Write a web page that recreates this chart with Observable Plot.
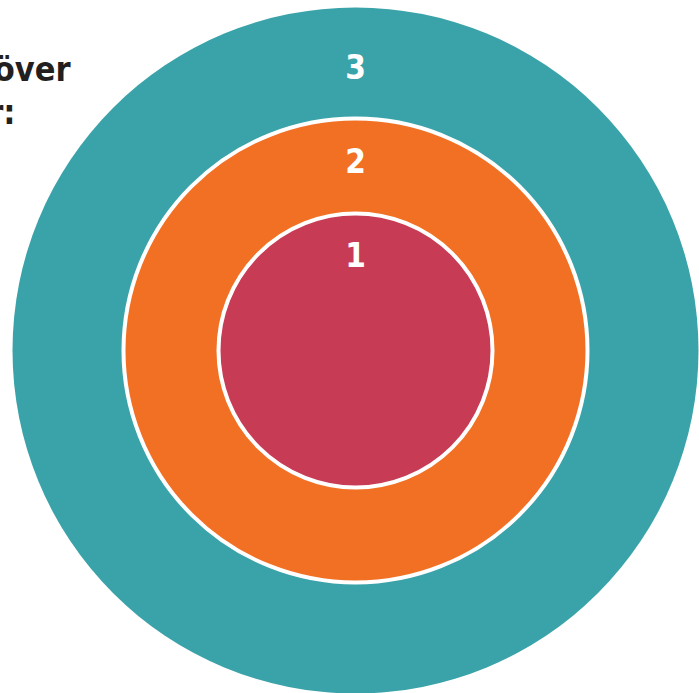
<!DOCTYPE html>
<html>
<head>
<meta charset="utf-8">
<script src="https://cdn.jsdelivr.net/npm/d3@7"></script>
<script src="https://cdn.jsdelivr.net/npm/@observablehq/plot@0.6"></script>
<style>
  html, body { margin: 0; padding: 0; background: #fff; overflow: hidden; }
  #chart svg { display: block; }
</style>
</head>
<body>
<div id="chart"></div>
<script>
// Ring categories (innermost first)
const levels = ["1", "2", "3"];
// Ring radii (arbitrary units)
const radii = [137, 232, 343];
const colors = ["#C83B55", "#F27024", "#3AA3A9"];
// Title fragments visible at the top left
const titleLines = ["över", "r:"];

const labelStep = 94; // spacing of the ring labels from the centre, in radius units

const rings = levels.map((l, i) => ({level: l, r: radii[i], color: colors[i], idx: i}))
  .sort((a, b) => b.r - a.r);

const plot = Plot.plot({
  width: 699,
  height: 693,
  margin: 0,
  x: {domain: [-355, 344], axis: null},
  y: {domain: [-343, 350], axis: null},
  r: {type: "linear", domain: [0, 343], range: [0, 343]},
  marks: [
    Plot.dot(rings, {
      x: () => 0, y: () => 0, r: "r",
      fill: "color",
      stroke: d => d.idx === 2 ? "none" : "#ffffff",
      strokeWidth: 4
    }),
    Plot.text(rings, {
      x: () => 0,
      y: d => (d.idx + 1) * labelStep,
      text: "level",
      fill: "#ffffff",
      fontSize: 33,
      fontWeight: "bold",
      fontFamily: "'Liberation Sans Narrow', 'DejaVu Sans Condensed', 'Open Sans', sans-serif"
    }),
    Plot.text(titleLines, {
      x: (d, i) => i === 0 ? -285 : -340,
      y: (d, i) => i === 0 ? 280 : 237,
      text: d => d,
      textAnchor: "end",
      fill: "#231f20",
      fontSize: 34,
      fontWeight: "bold",
      fontFamily: "'Liberation Sans Narrow', 'DejaVu Sans Condensed', 'Open Sans', sans-serif"
    })
  ]
});
document.getElementById("chart").appendChild(plot);
</script>
</body>
</html>
